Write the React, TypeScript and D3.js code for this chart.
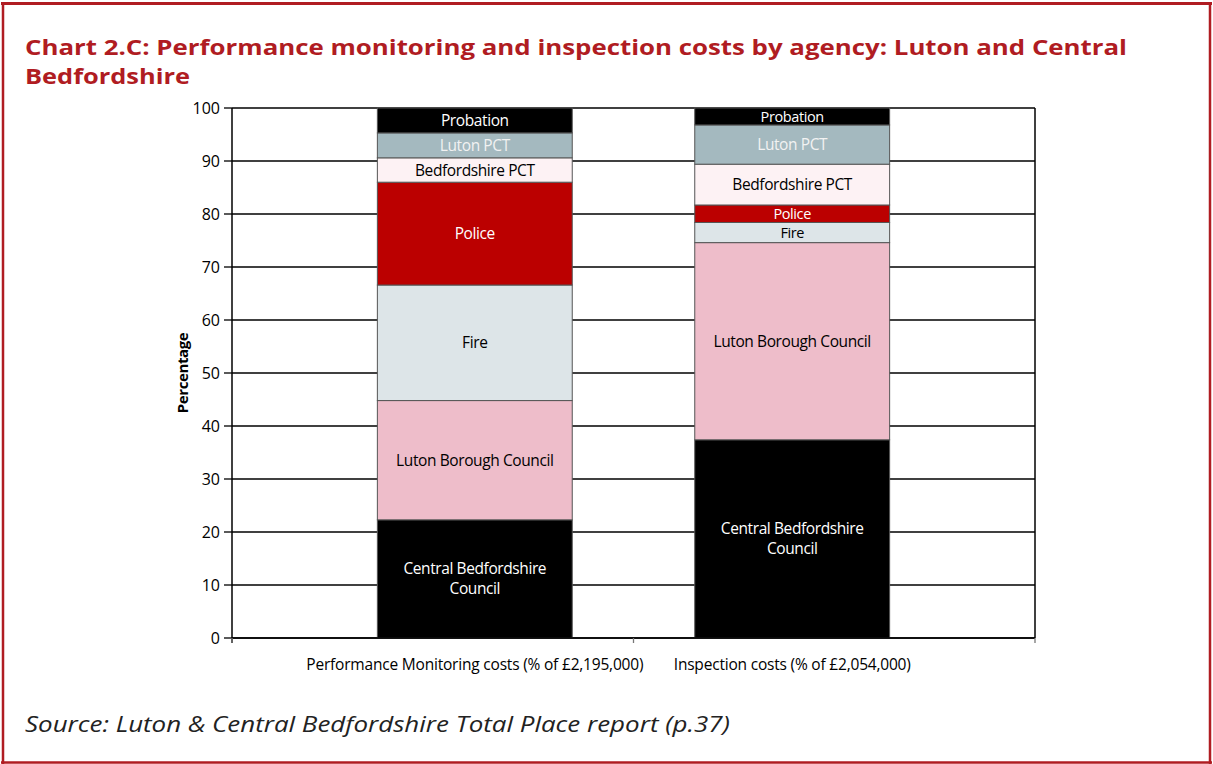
import React from "react";
import * as d3 from "d3";

const categories = [
  "Performance Monitoring costs (% of £2,195,000)",
  "Inspection costs (% of £2,054,000)",
];
const agencies = [
  "Central Bedfordshire Council",
  "Luton Borough Council",
  "Fire",
  "Police",
  "Bedfordshire PCT",
  "Luton PCT",
  "Probation",
];
const performanceValues = [22.3, 22.5, 21.8, 19.4, 4.6, 4.7, 4.7];
const inspectionValues = [37.4, 37.2, 3.8, 3.3, 7.7, 7.4, 3.2];
const yTicks = [0, 10, 20, 30, 40, 50, 60, 70, 80, 90, 100];

const fills: Record<string, string> = {
  "Central Bedfordshire Council": "#000000",
  "Luton Borough Council": "#eebdca",
  Fire: "#dde5e8",
  Police: "#bb0000",
  "Bedfordshire PCT": "#fdf2f4",
  "Luton PCT": "#a4b9bf",
  Probation: "#000000",
};
const textColors: Record<string, string> = {
  "Central Bedfordshire Council": "#ffffff",
  "Luton Borough Council": "#000000",
  Fire: "#000000",
  Police: "#ffffff",
  "Bedfordshire PCT": "#000000",
  "Luton PCT": "#f2f2f2",
  Probation: "#ffffff",
};
const labelLines: Record<string, string[]> = {
  "Central Bedfordshire Council": ["Central Bedfordshire", "Council"],
};

const W = 1213;
const H = 764;
const left = 232;
const right = 1035;
const top = 108;
const bottom = 638;
const FONT = "'Open Sans', 'Noto Sans', sans-serif";
const RED = "#b01c22";

export default function App() {
  const y = d3.scaleLinear().domain([0, 100]).range([bottom, top]);
  const x = d3.scalePoint<string>().domain(categories).range([left, right]).padding(0.765);
  const barW = x.step() * 0.614;

  const rows = categories.map((c, i) => {
    const vals = i === 0 ? performanceValues : inspectionValues;
    const r: any = { cat: c };
    agencies.forEach((a, j) => (r[a] = vals[j]));
    return r;
  });
  const stacked = d3.stack<any>().keys(agencies)(rows);

  const bandEdges = [left, (left + right) / 2, right];

  return (
    <svg width={W} height={H} style={{ display: "block", position: "absolute", left: 0, top: 0 }}>
      <rect x={0} y={0} width={W} height={H} fill="#ffffff" />
      {/* frame */}
      <line x1={1} x2={1212} y1={3.5} y2={3.5} stroke={RED} strokeWidth={3} />
      <line x1={3} x2={3} y1={2} y2={764} stroke={RED} strokeWidth={2.5} />
      <line x1={1210} x2={1210} y1={2} y2={764} stroke={RED} strokeWidth={2.5} />
      <line x1={1} x2={1212} y1={762.5} y2={762.5} stroke={RED} strokeWidth={2.5} />

      {/* title */}
      <text x={25} y={55} fill={RED} fontFamily={FONT} fontWeight="bold" fontSize={22}
        textLength={1102} lengthAdjust="spacingAndGlyphs">
        Chart 2.C: Performance monitoring and inspection costs by agency: Luton and Central
      </text>
      <text x={25} y={84} fill={RED} fontFamily={FONT} fontWeight="bold" fontSize={22}
        textLength={165} lengthAdjust="spacingAndGlyphs">
        Bedfordshire
      </text>

      {/* gridlines */}
      {yTicks.map((t) => (
        <line key={"g" + t} x1={left} x2={right} y1={y(t)} y2={y(t)} stroke="#000" strokeWidth={1.3} />
      ))}
      <line x1={right} x2={right} y1={top} y2={bottom} stroke="#000" strokeWidth={1.5} />

      {/* bars */}
      {stacked.map((series) =>
        series.map((d, i) => {
          const cx = x(categories[i])!;
          return (
            <rect
              key={series.key + i}
              x={cx - barW / 2}
              y={y(d[1])}
              width={barW}
              height={y(d[0]) - y(d[1])}
              fill={fills[series.key]}
              stroke="#555"
              strokeWidth={1}
            />
          );
        })
      )}

      {/* bar labels */}
      {stacked.map((series) =>
        series.map((d, i) => {
          const cx = x(categories[i])!;
          const cy = (y(d[0]) + y(d[1])) / 2;
          const lines = labelLines[series.key] || [series.key];
          const lh = 20;
          const small = y(d[0]) - y(d[1]) < 22;
          return (
            <text
              key={"l" + series.key + i}
              x={cx}
              textAnchor="middle"
              fill={textColors[series.key]}
              fontFamily={FONT}
              fontSize={small ? 14.5 : 15.5}
              letterSpacing={-0.4}
            >
              {lines.map((ln, k) => (
                <tspan key={k} x={cx} y={cy + 5.5 + (k - (lines.length - 1) / 2) * lh}>
                  {ln}
                </tspan>
              ))}
            </text>
          );
        })
      )}

      {/* y axis */}
      <line x1={left} x2={left} y1={top} y2={bottom + 5} stroke="#000" strokeWidth={1.5} />
      {yTicks.map((t) => (
        <g key={"t" + t}>
          <line x1={left - 8} x2={left} y1={y(t)} y2={y(t)} stroke="#000" strokeWidth={1.3} />
          <text x={220} y={y(t) + 5.5} textAnchor="end" fontFamily={FONT} fontSize={16} fill="#000">
            {t}
          </text>
        </g>
      ))}
      <text
        transform={`translate(188, ${(top + bottom) / 2}) rotate(-90)`}
        textAnchor="middle"
        fontFamily={FONT}
        fontWeight="bold"
        fontSize={15}
        letterSpacing={-0.4}
        fill="#000"
      >
        Percentage
      </text>

      {/* x axis */}
      <line x1={left} x2={right} y1={bottom} y2={bottom} stroke="#000" strokeWidth={1.5} />
      {bandEdges.map((bx, i) => (
        <line key={"bx" + i} x1={bx} x2={bx} y1={bottom} y2={bottom + 5} stroke="#777" strokeWidth={1.3} />
      ))}
      {categories.map((c) => (
        <text key={c} x={x(c)} y={670} textAnchor="middle" fontFamily={FONT} fontSize={15.5}
          letterSpacing={-0.2} fill="#000">
          {c}
        </text>
      ))}

      {/* source */}
      <text x={25} y={732} fontFamily={FONT} fontStyle="italic" fontSize={22} fill="#222"
        textLength={705} lengthAdjust="spacingAndGlyphs">
        Source: Luton &amp; Central Bedfordshire Total Place report (p.37)
      </text>
    </svg>
  );
}
